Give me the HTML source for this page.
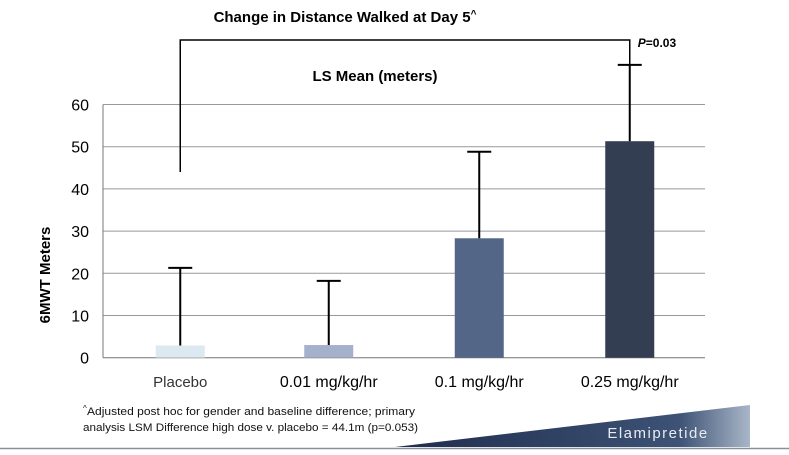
<!DOCTYPE html>
<html><head><meta charset="utf-8"><style>
body{margin:0;background:#fff;width:789px;height:450px;overflow:hidden;font-family:"Liberation Sans",sans-serif}
</style></head><body>
<svg width="789" height="450">
<defs>
<linearGradient id="bn" x1="0" x2="1" y1="0" y2="0">
<stop offset="0" stop-color="#1f2d4d"/><stop offset="0.8" stop-color="#3d5275"/><stop offset="1" stop-color="#a9b6c8"/>
</linearGradient>
</defs>
<text x="345" y="22" text-anchor="middle" font-size="15" font-weight="bold">Change in Distance Walked at Day 5<tspan font-size="10" dy="-5">^</tspan></text>
<text x="375" y="81" text-anchor="middle" font-size="15" font-weight="bold">LS Mean (meters)</text>
<g id="grid"></g>
<g id="yticks"></g>
<text transform="translate(50,275) rotate(-90)" text-anchor="middle" font-size="15" font-weight="bold">6MWT Meters</text>
<g id="bars"></g>
<g id="xlabels"></g>
<g id="bracket"></g>
<polygon points="395,447 750,405 750,447" fill="url(#bn)"/>
<text x="658" y="438" text-anchor="middle" font-size="15" fill="#e8ecf2" letter-spacing="1.5">Elamipretide</text>
<text font-size="11" fill="#111"><tspan x="83" y="411" font-size="8">^</tspan><tspan x="87" y="415" textLength="328" lengthAdjust="spacingAndGlyphs">Adjusted post hoc for gender and baseline difference; primary</tspan><tspan x="83" y="431" textLength="335" lengthAdjust="spacingAndGlyphs">analysis LSM Difference high dose v. placebo = 44.1m (p=0.053)</tspan></text>
<line x1="0" y1="448.5" x2="789" y2="448.5" stroke="#8a8f9a" stroke-width="1.5"/>
</svg>
<script>
const categories=["Placebo","0.01 mg/kg/hr","0.1 mg/kg/hr","0.25 mg/kg/hr"];
const means=[2.9,3.0,28.3,51.3];
const errTops=[21.3,18.2,48.8,69.4];
const colors=["#dde9f0","#a5b1cb","#536687","#343e52"];
const yTicks=[0,10,20,30,40,50,60];
const bracketLeftValue=44;
const pLabel="0.03";
const NS="http://www.w3.org/2000/svg";
const x0=103,x1=705,y0=357.7,pp=4.22;
const y=v=>y0-v*pp;
const band=(x1-x0)/categories.length;
const cx=i=>x0+band*(i+0.5)+ (i===0?2:0);
function mk(t,a,p){const e=document.createElementNS(NS,t);for(const k in a)e.setAttribute(k,a[k]);p.appendChild(e);return e;}
const grid=document.getElementById('grid'),yt=document.getElementById('yticks');
yTicks.forEach(v=>{
 const l=mk('line',{x1:x0,x2:x1,y1:y(v),y2:y(v),stroke:v===0?'#777':'#999','stroke-width':1},grid);
 
 
 const t=mk('text',{x:89,y:y(v)+6,'text-anchor':'end','font-size':16},yt);t.textContent=v;
 
 
});
const ax=mk('line',{x1:x0,x2:x0,y1:y(60),y2:y0,stroke:'#777'},grid);


const bars=document.getElementById('bars'),xl=document.getElementById('xlabels');
categories.forEach((c,i)=>{
 const bw=49,c0=cx(i);
 const r=mk('rect',{x:c0-bw/2,y:y(means[i]),width:bw,height:y0-y(means[i]),fill:colors[i]},bars);
 
 
 const e=mk('path',{d:`M${c0},${y(means[i])}V${y(errTops[i])}M${c0-12},${y(errTops[i])}H${c0+12}`,stroke:'#000','stroke-width':2,fill:'none'},bars);
 
 
 const t=mk('text',{x:c0,y:387,'text-anchor':'middle','font-size':i===0?15:16,fill:i===0?'#333':'#000'},xl);t.textContent=c;
 
 
});
const br=document.getElementById('bracket');
const bl=cx(0),brx=cx(3);
const bp=mk('path',{d:`M${bl},${y(bracketLeftValue)}V40H${brx}V${y(errTops[3])}`,stroke:'#000','stroke-width':1.5,fill:'none'},br);


const pt=mk('text',{x:brx+8,y:47,'font-size':12,'font-weight':'bold'},br);
pt.innerHTML='<tspan font-style="italic">P</tspan>='+pLabel;


</script>
</body></html>
